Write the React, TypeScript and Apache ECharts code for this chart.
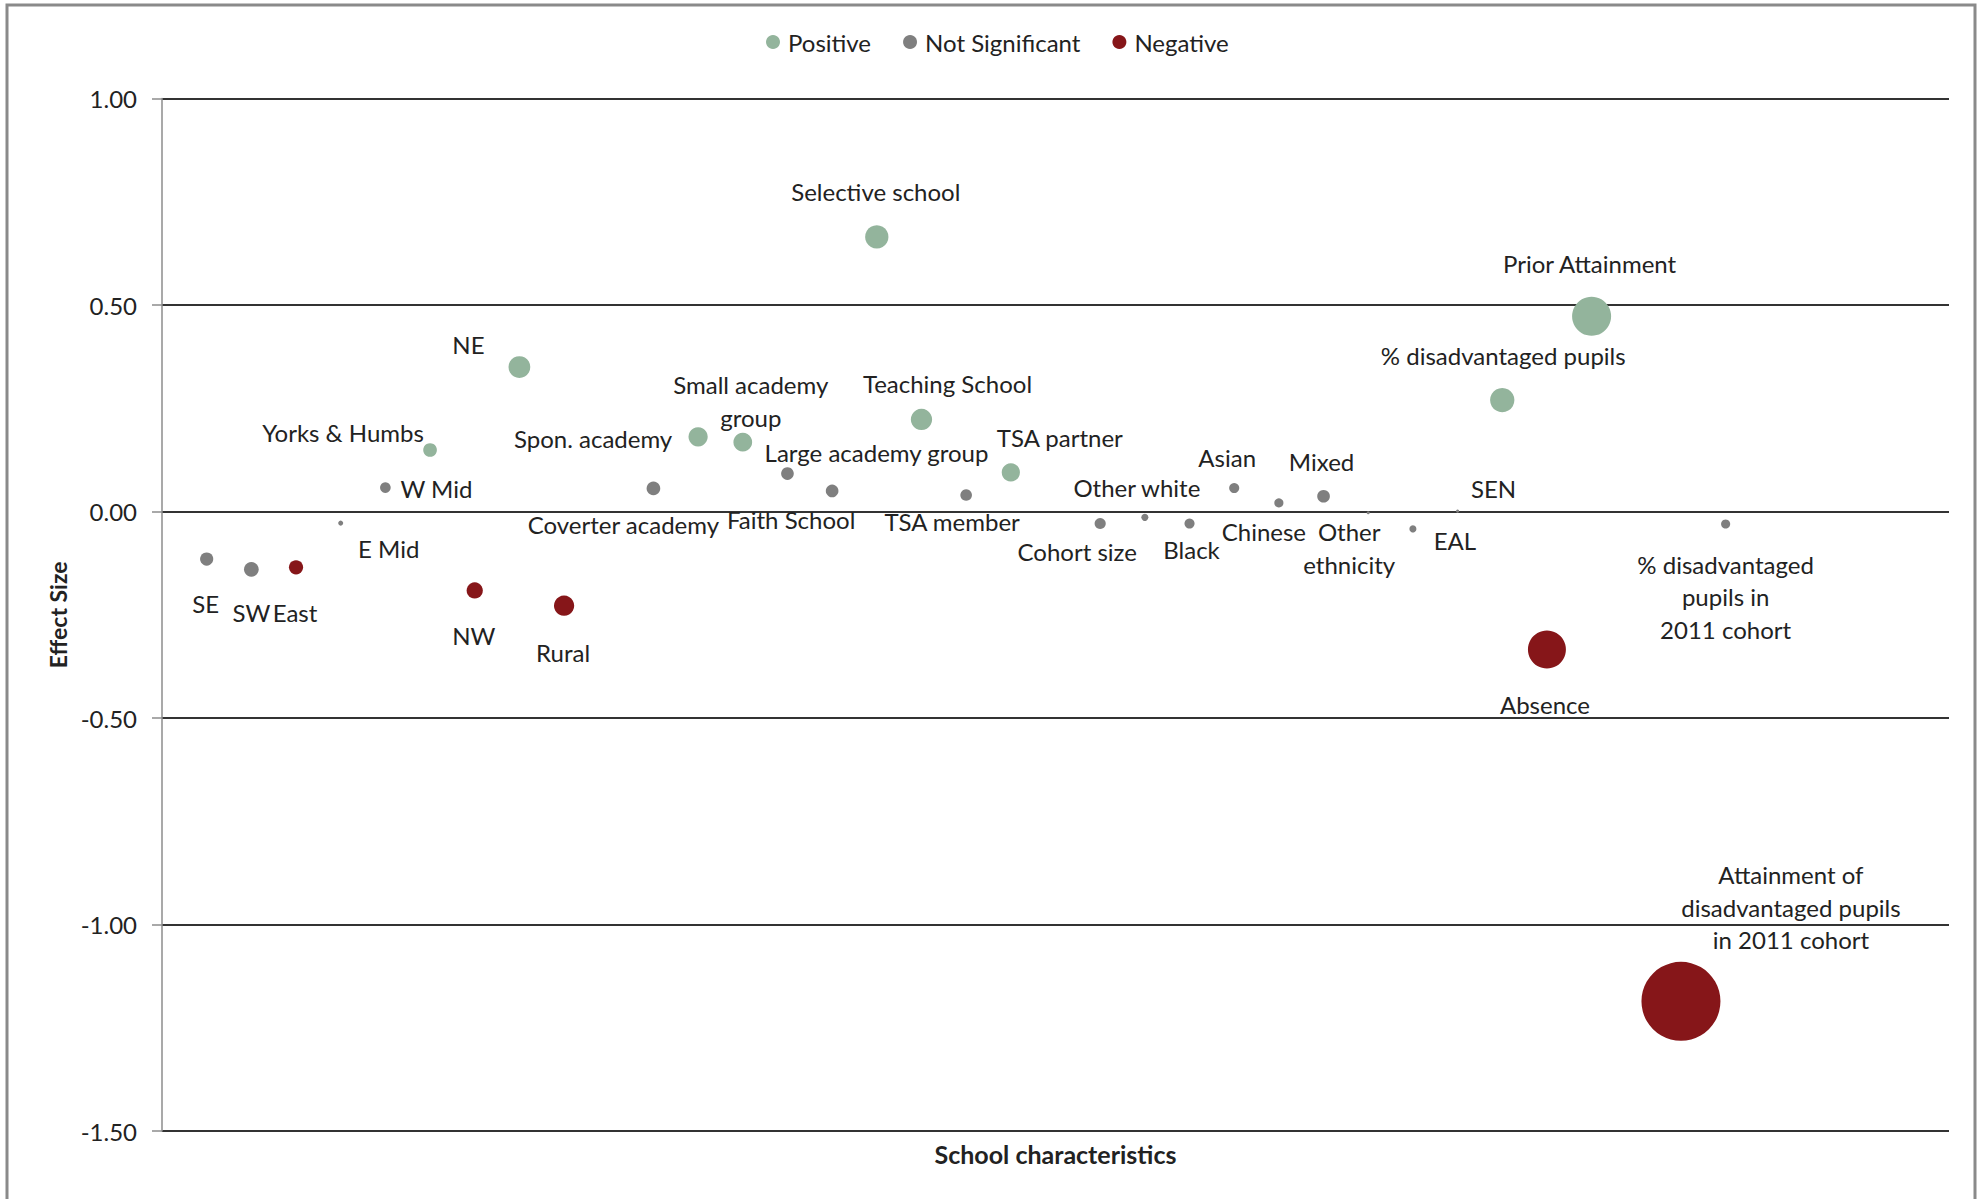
import React, { useEffect, useRef } from 'react';
import * as echarts from 'echarts';

// ---- Data ----
const categories = [
  'SE', 'SW', 'East', 'E Mid', 'W Mid', 'Yorks & Humbs', 'NW', 'NE', 'Rural',
  'Coverter academy', 'Spon. academy', 'Small academy group', 'Large academy group',
  'Faith School', 'Selective school', 'Teaching School', 'TSA member', 'TSA partner',
  'Cohort size', 'Other white', 'Black', 'Asian', 'Chinese', 'Mixed', 'Other ethnicity',
  'EAL', 'SEN', '% disadvantaged pupils', 'Absence', 'Prior Attainment',
  'Attainment of disadvantaged pupils in 2011 cohort', '% disadvantaged pupils in 2011 cohort',
];
const xPositions = [
  1, 2, 3, 4, 5, 6, 7, 8, 9, 11, 12, 13, 14, 15, 16, 17, 18, 19,
  21, 22, 23, 24, 25, 26, 27, 28, 29, 30, 31, 32, 34, 35,
];
const effectSizes = [
  -0.115, -0.140, -0.135, -0.028, 0.058, 0.149, -0.191, 0.350, -0.228,
  0.056, 0.181, 0.168, 0.092, 0.050, 0.665, 0.223, 0.040, 0.095,
  -0.029, -0.014, -0.029, 0.057, 0.021, 0.037, -0.003, -0.042, 0.001,
  0.270, -0.334, 0.473, -1.186, -0.030,
];
const bubbleSizes = [
  2.78, 3.46, 3.22, 0.41, 1.81, 3.0, 4.2, 7.6, 6.57,
  3.0, 5.93, 5.63, 2.57, 2.57, 8.7, 7.25, 2.17, 5.33,
  1.99, 0.8, 1.64, 1.64, 1.33, 2.57, 0.15, 0.8, 0.15,
  9.47, 23.1, 24.4, 100, 1.33,
];
const significance = [
  'Not Significant', 'Not Significant', 'Negative', 'Not Significant', 'Not Significant',
  'Positive', 'Negative', 'Positive', 'Negative',
  'Not Significant', 'Positive', 'Positive', 'Not Significant', 'Not Significant',
  'Positive', 'Positive', 'Not Significant', 'Positive',
  'Not Significant', 'Not Significant', 'Not Significant', 'Not Significant', 'Not Significant',
  'Not Significant', 'Not Significant', 'Not Significant', 'Not Significant',
  'Positive', 'Negative', 'Positive', 'Negative', 'Not Significant',
];
const groups = ['Positive', 'Not Significant', 'Negative'];
const yMin = -1.5;
const yMax = 1.0;
const yStep = 0.5;
const xMin = 0;
const xMax = 40;

// ---- Styling ----
const groupColors: Record<string, string> = {
  Positive: '#93B49C',
  'Not Significant': '#7F7F7F',
  Negative: '#861619',
};
const labelText: Record<string, string> = {
  'Small academy group': 'Small academy\ngroup',
  'Other ethnicity': 'Other\nethnicity',
  'Attainment of disadvantaged pupils in 2011 cohort': 'Attainment of\ndisadvantaged pupils\nin 2011 cohort',
  '% disadvantaged pupils in 2011 cohort': '% disadvantaged\npupils in\n2011 cohort',
};
// label centre offsets (px) from bubble centre
const labelOffsets: number[][] = [
  [-1, 44], [0, 43], [-1, 45], [48, 25], [51, 1], [-87, -18], [-1, 45], [-51, -23], [-1, 47],
  [-30, 36], [-105, 2], [8, -41], [89, -21], [-41, 29], [-1, -45], [26, -36], [-14, 26], [49, -35],
  [-23, 28], [-8, -30], [2, 26], [-7, -31], [-15, 29], [-2, -35], [-19, 35], [42, 12], [36, -23],
  [1, -45], [-2, 55], [-2, -53], [110, -94], [0, 73],
];
const FONT = 'Lato, "Open Sans", sans-serif';
const TEXT = '#222222';

export default function App() {
  const ref = useRef<HTMLDivElement>(null);

  useEffect(() => {
    document.body.style.margin = '0';
    if (!ref.current) return;
    const chart = echarts.init(ref.current, undefined, { renderer: 'svg' });

    const series = groups.map((g) => ({
      name: g,
      type: 'scatter',
      itemStyle: { color: groupColors[g], opacity: 1 },
      symbol: 'circle',
      symbolSize: (val: number[]) => Math.sqrt(val[2]) * 7.9,
      silent: true,
      emphasis: { disabled: true },
      label: {
        show: true,
        position: 'inside',
        align: 'center',
        verticalAlign: 'middle',
        color: TEXT,
        fontFamily: FONT,
        fontSize: 24,
        lineHeight: 32.5,
        formatter: (p: any) => labelText[p.name] || p.name,
      },
      data: categories
        .map((name, i) => ({ name, i }))
        .filter(({ i }) => significance[i] === g)
        .map(({ name, i }) => ({
          name,
          value: [xPositions[i], effectSizes[i], bubbleSizes[i]],
          label: { offset: labelOffsets[i] },
        })),
    }));

    chart.setOption({
      animation: false,
      backgroundColor: '#ffffff',
      textStyle: { fontFamily: FONT },
      graphic: [
        {
          type: 'rect',
          silent: true,
          z: -10,
          shape: { x: 7, y: 5, width: 1968, height: 1260 },
          style: { fill: 'none', stroke: '#8a8a8a', lineWidth: 3 },
        },
      ],
      legend: {
        data: groups,
        left: 766,
        top: 28,
        padding: 0,
        itemWidth: 20,
        itemHeight: 14,
        itemGap: 32,
        icon: 'circle',
        selectedMode: false,
        textStyle: { fontFamily: FONT, fontSize: 24, color: TEXT, lineHeight: 28 },
      },
      grid: { left: 162, right: 33, top: 98.6, bottom: 68, containLabel: false },
      xAxis: {
        type: 'value',
        min: xMin,
        max: xMax,
        name: 'School characteristics',
        nameLocation: 'middle',
        nameGap: 10,
        nameTextStyle: { fontFamily: FONT, fontSize: 25, fontWeight: 'bold', color: TEXT, verticalAlign: 'top' },
        axisLine: { show: false, onZero: false },
        axisTick: { show: false },
        axisLabel: { show: false },
        splitLine: { show: false },
      },
      yAxis: {
        type: 'value',
        min: yMin,
        max: yMax,
        interval: yStep,
        name: 'Effect Size',
        nameLocation: 'middle',
        nameGap: 93,
        nameRotate: 90,
        nameTextStyle: { fontFamily: FONT, fontSize: 23, fontWeight: 'bold', color: TEXT },
        axisLine: { show: true, lineStyle: { color: '#8c8c8c', width: 1.5 } },
        axisTick: { show: true, inside: false, length: 10, lineStyle: { color: '#8c8c8c', width: 1.5 } },
        axisLabel: {
          margin: 25,
          fontFamily: FONT,
          fontSize: 24,
          color: TEXT,
          formatter: (v: number) => v.toFixed(2),
        },
        splitLine: { show: true, lineStyle: { color: '#333333', width: 2 } },
      },
      series,
    });

    return () => chart.dispose();
  }, []);

  return <div ref={ref} style={{ width: 1982, height: 1199 }} />;
}
